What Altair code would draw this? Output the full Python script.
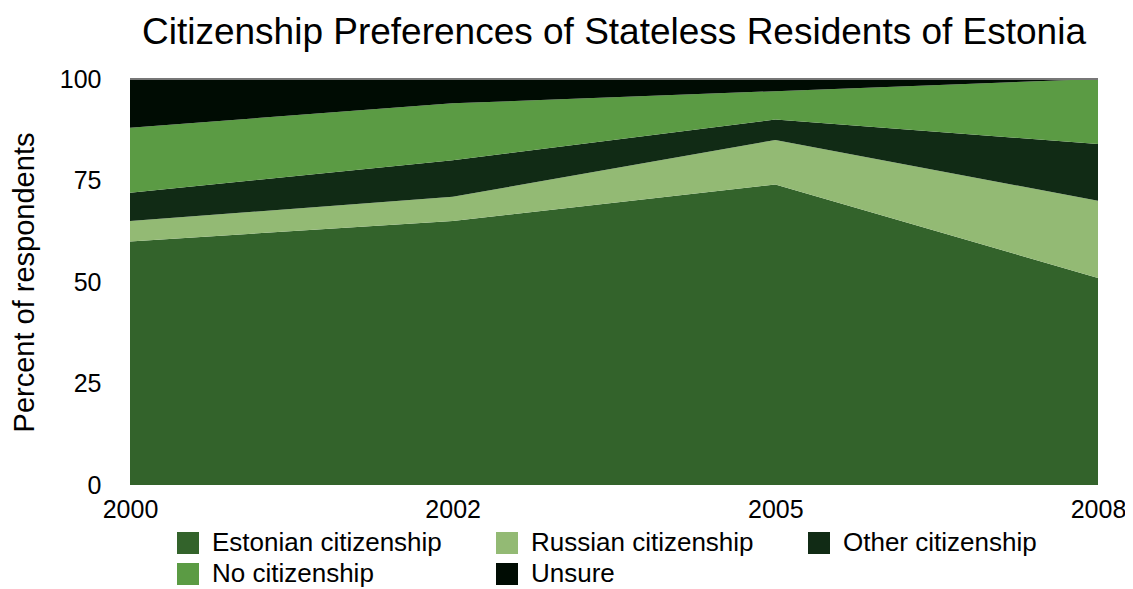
import altair as alt
import pandas as pd

years = ["2000", "2002", "2005", "2008"]
categories = ["Estonian citizenship", "Russian citizenship", "Other citizenship",
              "No citizenship", "Unsure"]
estonian = [60, 65, 74, 51]
russian = [5, 6, 11, 19]
other = [7, 9, 5, 14]
no_cit = [16, 14, 7, 16]
unsure = [12, 6, 3, 0]
colors = ["#33632b", "#93ba74", "#112b15", "#5b9b44", "#000c03"]

series = [estonian, russian, other, no_cit, unsure]
rows = []
for ci, (cat, vals) in enumerate(zip(categories, series)):
    for y, v in zip(years, vals):
        rows.append({"year": y, "category": cat, "value": v, "order": ci})
df = pd.DataFrame(rows)

FONT = "Liberation Sans"

area = alt.Chart(df).mark_area(opacity=1).encode(
    x=alt.X("year:O", scale=alt.Scale(type="point", padding=0), sort=years,
            axis=alt.Axis(title=None, labelAngle=0, labelFontSize=25, labelFont=FONT,
                          labelColor="black", ticks=False, domain=False,
                          labelPadding=12)),
    y=alt.Y("value:Q", stack="zero", scale=alt.Scale(domain=[0, 100], nice=False),
            axis=alt.Axis(title="Percent of respondents", values=[0, 25, 50, 75, 100],
                          grid=False, ticks=False, domain=False, labelFontSize=25,
                          labelFont=FONT, labelColor="black", labelPadding=29,
                          titleFontSize=29, titleFont=FONT, titleFontWeight="normal",
                          titleColor="black", titlePadding=20)),
    color=alt.Color("category:N", sort=categories,
                    scale=alt.Scale(domain=categories, range=colors),
                    legend=alt.Legend(title=None, orient="none", legendX=45, legendY=451,
                                      direction="horizontal", columns=3,
                                      symbolType="square", symbolSize=484,
                                      symbolStrokeWidth=0, labelFontSize=26,
                                      labelFont=FONT, labelColor="black",
                                      labelLimit=0, labelOffset=11, columnPadding=52,
                                      rowPadding=5)),
    order=alt.Order("order:Q", sort="ascending"),
)

top_line = alt.Chart(df).mark_rule(color="#777777", strokeWidth=2).encode(
    y=alt.datum(100)
)

chart = alt.layer(area, top_line).properties(
    width=968, height=406,
    autosize=alt.AutoSizeParams(type="none"),
    padding={"left": 122, "top": 71, "right": 27, "bottom": 104},
    title=alt.Title("Citizenship Preferences of Stateless Residents of Estonia",
                    fontSize=37, font=FONT, fontWeight="normal", color="black",
                    anchor="middle", offset=15),
).configure_view(stroke=None)

chart.save("out.html", embed_options={"renderer": "svg", "actions": False})
